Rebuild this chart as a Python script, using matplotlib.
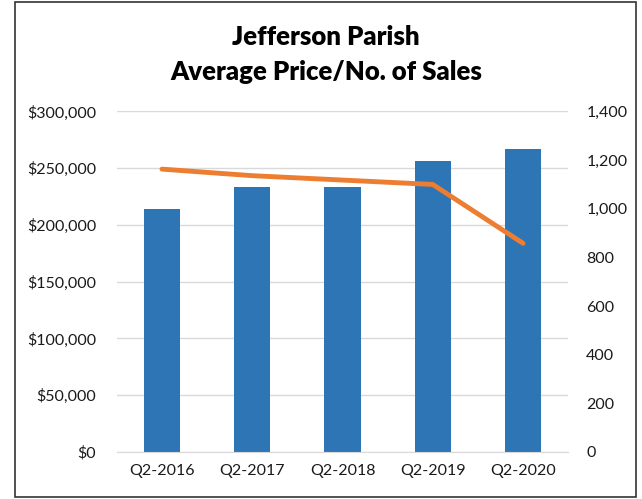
import matplotlib.pyplot as plt
from matplotlib.patches import Rectangle
from matplotlib.ticker import FuncFormatter

quarters = ["Q2-2016", "Q2-2017", "Q2-2018", "Q2-2019", "Q2-2020"]
avg_price = [213800, 233200, 233800, 256400, 267000]
num_sales = [1163, 1136, 1118, 1100, 858]

plt.rcParams['font.family'] = ['Lato', 'DejaVu Sans']

fig = plt.figure(figsize=(6.42, 4.99), dpi=100)
ax = fig.add_axes([0.182, 0.0942, 0.703, 0.6824])
ax2 = ax.twinx()

x = range(len(quarters))
ax.bar(x, avg_price, width=0.4, color="#2E75B6", zorder=2)
ax2.plot(x, num_sales, color="#ED7D31", lw=3.5, solid_capstyle="round",
         solid_joinstyle="round", zorder=3)

ax.set_ylim(0, 300000)
ax.set_yticks(range(0, 300001, 50000))
ax.yaxis.set_major_formatter(FuncFormatter(lambda v, p: "${:,.0f}".format(v)))
ax2.set_ylim(0, 1400)
ax2.set_yticks(range(0, 1401, 200))
ax2.yaxis.set_major_formatter(FuncFormatter(lambda v, p: "{:,.0f}".format(v)))
ax.set_xlim(-0.5, 4.5)
ax.set_xticks(list(x))
ax.set_xticklabels(quarters)

ax.grid(axis="y", color="#D9D9D9", lw=1, zorder=0)
ax.set_axisbelow(True)
for a in (ax, ax2):
    for s in a.spines.values():
        s.set_visible(False)
    a.tick_params(length=0, labelsize=11.5, colors="#1a1a1a")
ax.spines["bottom"].set_visible(True)
ax.spines["bottom"].set_color("#D9D9D9")
ax.tick_params(axis="y", pad=15)
ax.tick_params(axis="x", pad=9)
ax2.tick_params(axis="y", pad=13)

fig.text(0.508, 0.925, "Jefferson Parish", ha="center", va="center",
         fontsize=18.5, fontweight="heavy")
fig.text(0.508, 0.855, "Average Price/No. of Sales", ha="center", va="center",
         fontsize=18.5, fontweight="heavy")

fig.patches.append(Rectangle((15/642, 2/499), 621/642, 495/499, transform=fig.transFigure,
                             fill=False, edgecolor="#333333", lw=1.2))

fig.savefig("out.png", dpi=100)
